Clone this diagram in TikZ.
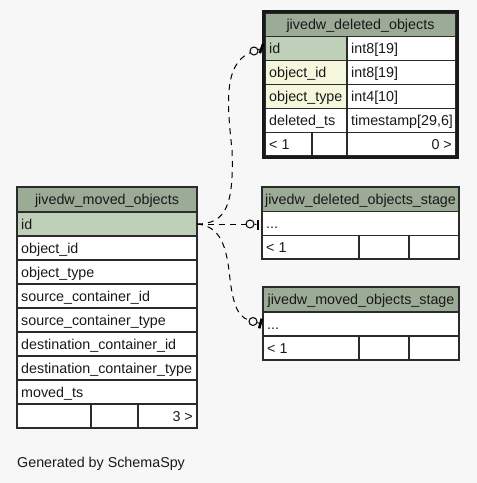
\documentclass[tikz,border=0pt]{standalone}
\usepackage{fontspec}
\setmainfont{Liberation Sans}
\usetikzlibrary{fit}
\definecolor{bg}{HTML}{F7F7F7}
\definecolor{hdr}{HTML}{9CAB96}
\definecolor{pk}{HTML}{BED0B8}
\definecolor{idx}{HTML}{F5F7DD}
\definecolor{ln}{HTML}{2B2B2B}
\tikzset{
 cellbox/.style={draw=ln, line width=1.4pt, inner sep=0pt, outer sep=0pt},
 celltext/.style={inner sep=0pt, font=\fontsize{14.3}{16}\selectfont, text=black!90},
 atwest/.style={anchor=base west, xshift=4pt, yshift=-5pt},
 atcenter/.style={anchor=base, yshift=-5pt},
 ateast/.style={anchor=base east, xshift=-4pt, yshift=-5pt},
 conn/.style={draw=black, line width=1pt, dash pattern=on 6pt off 5pt},
 optcirc/.style={circle, draw=black, fill=bg, line width=1pt, minimum size=8pt, inner sep=0pt},
 teebar/.style={fill=black, draw=none, minimum width=2.6pt, minimum height=10pt, inner sep=0pt},
}
\newcommand{\erdcell}[8]{%
 \node[cellbox, fill=#6, fit={(#2,#3) (#4,#5)}] (#1) {};
 \node[celltext, at#7] (#1-t) at (#1.#7) {#8};}
\begin{document}
\begin{tikzpicture}[x=1pt, y=-1pt]
\fill[bg] (0,0) rectangle (477,483);
\useasboundingbox (0,0) rectangle (477,483);

% jivedw_deleted_objects
\erdcell{d-h}{265}{13}{456}{36.5}{hdr}{center}{jivedw\_deleted\_objects}
\erdcell{d-id}{265}{36.5}{347}{60.5}{pk}{west}{id}
\erdcell{d-idv}{347}{36.5}{456}{60.5}{white}{west}{int8[19]}
\erdcell{d-oid}{265}{60.5}{347}{84.5}{idx}{west}{object\_id}
\erdcell{d-oidv}{347}{60.5}{456}{84.5}{white}{west}{int8[19]}
\erdcell{d-ot}{265}{84.5}{347}{108.5}{idx}{west}{object\_type}
\erdcell{d-otv}{347}{84.5}{456}{108.5}{white}{west}{int4[10]}
\erdcell{d-ts}{265}{108.5}{347}{132.5}{white}{west}{deleted\_ts}
\erdcell{d-tsv}{347}{108.5}{456}{132.5}{white}{west}{timestamp[29,6]}
\erdcell{d-f1}{265}{132.5}{312}{156}{white}{west}{< 1}
\erdcell{d-f2}{312}{132.5}{347}{156}{white}{west}{}
\erdcell{d-f3}{347}{132.5}{456}{156}{white}{east}{0 >}
\draw[line width=3pt, draw=black!90] (263.5,11.5) rectangle (457.5,157.5);

% jivedw_moved_objects
\erdcell{m-h}{17}{187}{197}{212}{hdr}{center}{jivedw\_moved\_objects}
\erdcell{m-id}{17}{212}{197}{236}{pk}{west}{id}
\erdcell{m-r1}{17}{236}{197}{260}{white}{west}{object\_id}
\erdcell{m-r2}{17}{260}{197}{284}{white}{west}{object\_type}
\erdcell{m-r3}{17}{284}{197}{308}{white}{west}{source\_container\_id}
\erdcell{m-r4}{17}{308}{197}{332}{white}{west}{source\_container\_type}
\erdcell{m-r5}{17}{332}{197}{356}{white}{west}{destination\_container\_id}
\erdcell{m-r6}{17}{356}{197}{380}{white}{west}{destination\_container\_type}
\erdcell{m-r7}{17}{380}{197}{404}{white}{west}{moved\_ts}
\erdcell{m-f1}{17}{404}{91}{428}{white}{west}{}
\erdcell{m-f2}{91}{404}{138}{428}{white}{west}{}
\erdcell{m-f3}{138}{404}{197}{428}{white}{east}{3 >}

% jivedw_deleted_objects_stage
\erdcell{ds-h}{262}{187}{459}{211.5}{hdr}{center}{jivedw\_deleted\_objects\_stage}
\erdcell{ds-r}{262}{211.5}{459}{235.5}{white}{west}{...}
\erdcell{ds-f1}{262}{235.5}{359}{259}{white}{west}{< 1}
\erdcell{ds-f2}{359}{235.5}{409}{259}{white}{west}{}
\erdcell{ds-f3}{409}{235.5}{459}{259}{white}{west}{}

% jivedw_moved_objects_stage
\erdcell{ms-h}{263}{287}{459}{312}{hdr}{center}{jivedw\_moved\_objects\_stage}
\erdcell{ms-r}{263}{312}{459}{336}{white}{west}{...}
\erdcell{ms-f1}{263}{336}{359}{360}{white}{west}{< 1}
\erdcell{ms-f2}{359}{336}{409}{360}{white}{west}{}
\erdcell{ms-f3}{409}{336}{459}{360}{white}{west}{}

% connector ends
\node[optcirc] (c1) at (254,51) {};
\node[teebar, rotate=-20] (b1) at (261.5,48.5) {};
\node[optcirc] (c2) at (250,224) {};
\node[teebar] (b2) at (258,224.5) {};
\node[optcirc] (c3) at (253,321.5) {};
\node[teebar, rotate=-15] (b3) at (260.5,323.5) {};

% connectors
\draw[conn] (m-id.east) .. controls (226,224) and (234,205) .. (232,150)
  .. controls (228,110) and (222,65) .. (c1);
\draw[line width=1pt] (c1) -- (b1);
\draw[conn] (m-id.east) -- (c2);
\draw[line width=1pt] (c2) -- (b2);
\draw[conn] (m-id.east) .. controls (222,226) and (226,250) .. (229,270)
  .. controls (232,300) and (236,316) .. (c3);
\draw[line width=1pt] (c3) -- (b3);

\node[celltext, anchor=base west] (gen) at (17,467) {Generated by SchemaSpy};
\end{tikzpicture}
\end{document}
